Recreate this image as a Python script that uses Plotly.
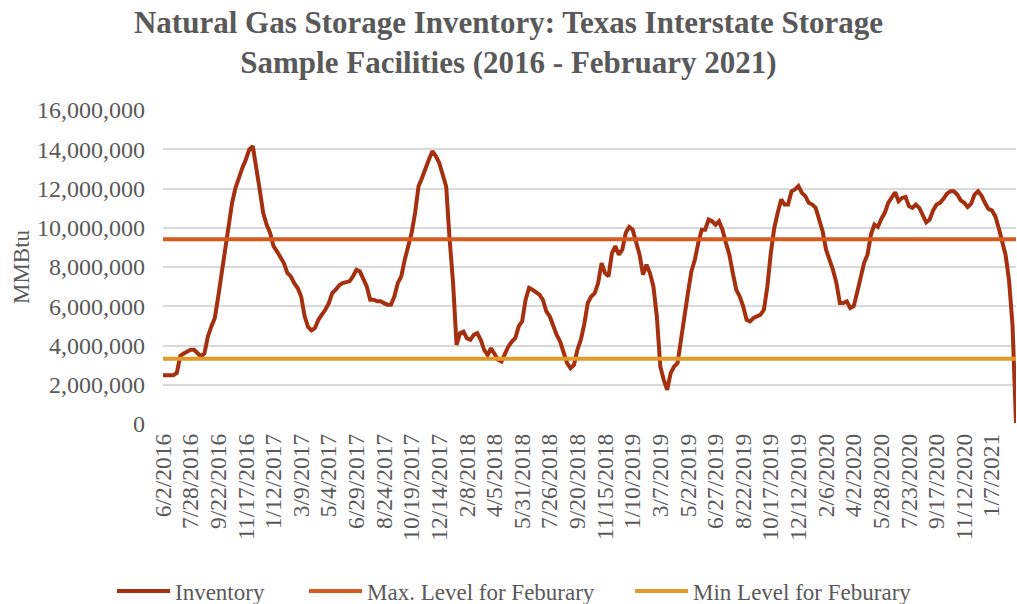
import pandas as pd
import plotly.graph_objects as go

# Weekly observation dates (categories)
start_date = "2016-06-02"
n_weeks = 248
dates = [f"{d.month}/{d.day}/{d.year}" for d in pd.date_range(start_date, periods=n_weeks, freq="7D")]

# Inventory, in millions of MMBtu
inventory_millions = [
    2.49, 2.49, 2.49, 2.49, 2.6, 3.47, 3.6, 3.69, 3.78, 3.78,
    3.6, 3.44, 3.6, 4.46, 4.97, 5.4, 6.5, 7.7, 9.06, 10.4,
    11.27, 12.03, 12.63, 13.06, 13.48, 13.99, 14.16, 13.14, 11.95, 10.76,
    10.16, 9.74, 9.06, 8.8, 8.54, 8.2, 7.7, 7.52, 7.18, 6.93,
    6.5, 5.5, 4.95, 4.77, 4.89, 5.31, 5.57, 5.82, 6.16, 6.67,
    6.84, 7.06, 7.18, 7.22, 7.27, 7.52, 7.86, 7.78, 7.35, 7.01,
    6.33, 6.33, 6.25, 6.25, 6.16, 6.08, 6.08, 6.5, 7.18, 7.52,
    8.37, 9.06, 9.74, 10.76, 12.12, 12.54, 13.06, 13.48, 13.9, 13.65,
    13.3, 12.7, 12.1, 9.4, 7.18, 4.03, 4.63, 4.71, 4.37, 4.29,
    4.54, 4.63, 4.29, 3.78, 3.52, 3.86, 3.52, 3.27, 3.18, 3.61,
    3.95, 4.2, 4.37, 4.97, 5.23, 6.33, 6.93, 6.84, 6.71, 6.59,
    6.33, 5.74, 5.48, 4.97, 4.54, 4.2, 3.69, 3.1, 2.84, 3.01,
    3.78, 4.3, 5.1, 6.16, 6.5, 6.67, 7.18, 8.2, 7.69, 7.52,
    8.71, 9.06, 8.63, 8.88, 9.74, 10.04, 9.9, 9.31, 8.63, 7.61,
    8.12, 7.69, 7.01, 5.48, 2.93, 2.25, 1.74, 2.59, 2.93, 3.1,
    4.29, 5.82, 6.67, 7.78, 8.37, 9.23, 9.9, 9.9, 10.42, 10.33,
    10.16, 10.33, 9.9, 9.23, 8.63, 7.69, 6.84, 6.5, 5.99, 5.31,
    5.23, 5.4, 5.51, 5.57, 5.82, 7.01, 8.71, 9.99, 10.76, 11.44,
    11.18, 11.18, 11.86, 11.95, 12.12, 11.78, 11.61, 11.27, 11.18, 11.01,
    10.42, 9.82, 8.88, 8.37, 7.86, 7.18, 6.16, 6.16, 6.25, 5.91,
    6.0, 6.7, 7.4, 8.2, 8.63, 9.65, 10.16, 10.04, 10.45, 10.76,
    11.27, 11.52, 11.81, 11.35, 11.52, 11.57, 11.1, 11.01, 11.18, 11.01,
    10.59, 10.28, 10.42, 10.89, 11.18, 11.27, 11.47, 11.74, 11.86, 11.86,
    11.69, 11.4, 11.27, 11.06, 11.23, 11.69, 11.86, 11.64, 11.27, 10.96,
    10.89, 10.59, 9.99, 9.3, 8.6, 7.3, 5.0, 0.05,
]

max_level_feb = 9_420_000
min_level_feb = 3_330_000

tick_labels = [
    "6/2/2016", "7/28/2016", "9/22/2016", "11/17/2016", "1/12/2017", "3/9/2017",
    "5/4/2017", "6/29/2017", "8/24/2017", "10/19/2017", "12/14/2017", "2/8/2018",
    "4/5/2018", "5/31/2018", "7/26/2018", "9/20/2018", "11/15/2018", "1/10/2019",
    "3/7/2019", "5/2/2019", "6/27/2019", "8/22/2019", "10/17/2019", "12/12/2019",
    "2/6/2020", "4/2/2020", "5/28/2020", "7/23/2020", "9/17/2020", "11/12/2020",
    "1/7/2021",
]
y_ticks = [0, 2_000_000, 4_000_000, 6_000_000, 8_000_000, 10_000_000,
           12_000_000, 14_000_000, 16_000_000]

inventory = [v * 1_000_000 for v in inventory_millions]

FONT = "Liberation Serif"
GREY = "#595959"
W, H = 1017, 604

fig = go.Figure()
fig.add_trace(go.Scatter(
    x=dates, y=inventory, mode="lines", name="Inventory",
    line=dict(color="#A5300F", width=4), legend="legend",
))
fig.add_trace(go.Scatter(
    x=dates, y=[max_level_feb] * len(dates), mode="lines",
    name="Max. Level for Feburary",
    line=dict(color="#D65A1F", width=4), legend="legend2",
))
fig.add_trace(go.Scatter(
    x=dates, y=[min_level_feb] * len(dates), mode="lines",
    name="Min Level for Feburary",
    line=dict(color="#E29A28", width=4), legend="legend3",
))

leg_common = dict(
    orientation="h", xref="container", yref="container",
    y=1 - 591 / H, yanchor="middle", xanchor="left",
    font=dict(family=FONT, size=23, color=GREY),
    bgcolor="rgba(0,0,0,0)", itemwidth=53,
)

fig.update_layout(
    width=W, height=H,
    margin=dict(l=163, r=1, t=110, b=180, autoexpand=False),
    paper_bgcolor="white", plot_bgcolor="white",
    font=dict(family=FONT, color=GREY, size=20),
    title=dict(
        text="<b>Natural Gas Storage Inventory: Texas Interstate Storage<br>Sample Facilities (2016 - February 2021)</b>",
        x=0.5, xanchor="center", xref="container",
        y=1 - 33 / H, yanchor="top", yref="container",
        font=dict(family=FONT, size=31, color=GREY),
    ),
    showlegend=True,
    legend=dict(x=(175 - 63) / W, **leg_common),
    legend2=dict(x=(367 - 63) / W, **leg_common),
    legend3=dict(x=(693 - 63) / W, **leg_common),
)
fig.update_xaxes(
    type="category", range=[0, len(dates) - 1],
    tickmode="array", tickvals=tick_labels, ticktext=tick_labels,
    tickangle=-90, showgrid=False, showline=False, ticks="",
    tickfont=dict(family=FONT, size=23.5, color=GREY), zeroline=False,
    ticklabelstandoff=4,
)
fig.update_yaxes(
    range=[0, 16_000_000], tickvals=y_ticks,
    tickformat=",d", showgrid=True, gridcolor="#D9D9D9", gridwidth=1.5,
    zeroline=False, showline=False, ticks="",
    tickfont=dict(family=FONT, size=24, color=GREY),
    ticklabelstandoff=17,
    title=dict(text="MMBtu", font=dict(family=FONT, size=23, color=GREY), standoff=0),
)

fig.write_html(
    "out.html",
    config={"displayModeBar": False},
    post_script="document.body.style.margin='0';",
)
